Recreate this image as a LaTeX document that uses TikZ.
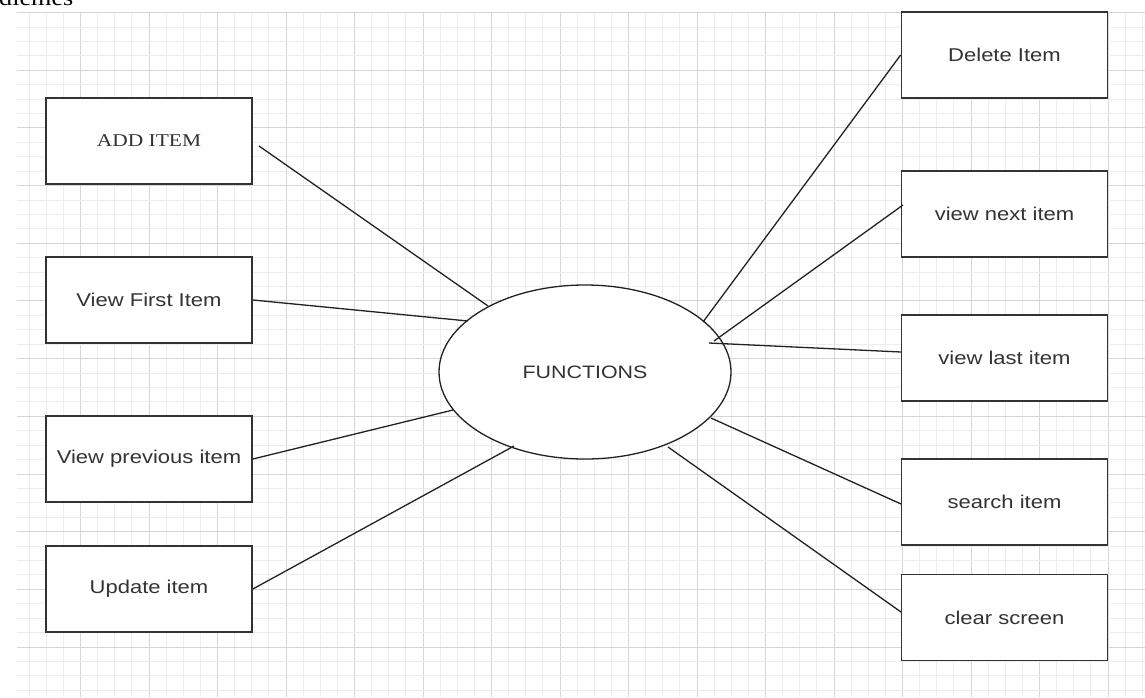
\documentclass[tikz,border=0pt]{standalone}
\usepackage{fontspec}
\setmainfont{Liberation Serif}
\newfontfamily\arialf{Liberation Sans}
\newcommand\hsx[1]{\scalebox{1.19}[1]{#1}}
\definecolor{gminor}{HTML}{EDEDED}
\definecolor{gmajor}{HTML}{D6D6D6}
\definecolor{boxline}{HTML}{333333}
\definecolor{txt}{HTML}{333333}
\definecolor{conn}{HTML}{222222}
\tikzset{
  minorline/.style={draw=gminor, line width=0.8pt},
  majorline/.style={draw=gmajor, line width=0.9pt},
  itembox/.style={draw=boxline, fill=white, line width=1.7pt, minimum width=206pt, minimum height=86pt, inner sep=0pt, text=txt, font=\arialf\fontsize{18.5}{20}\selectfont},
  serifbox/.style={itembox, font=\fontsize{18}{20}\selectfont},
  hub/.style={ellipse, draw=conn, fill=white, line width=1.3pt, minimum width=292pt, minimum height=174pt, inner sep=0pt, text=txt, font=\arialf\fontsize{18}{20}\selectfont},
  link/.style={draw=conn, line width=1.3pt}
}
\usetikzlibrary{shapes.geometric}
\begin{document}
\begin{tikzpicture}[x=1pt,y=-1pt]
\useasboundingbox (0,0) rectangle (1145,697);
\fill[white] (0,0) rectangle (1145,697);
% grid
\foreach \i in {1,...,66} {
  \pgfmathtruncatemacro\m{mod(\i,4)}
  \ifnum\m=0
    \draw[majorline] ({12+17.125*\i},12.5) -- ({12+17.125*\i},697);
  \else
    \draw[minorline] ({12+17.125*\i},12.5) -- ({12+17.125*\i},697);
  \fi
}
\foreach \j in {0,...,47} {
  \pgfmathtruncatemacro\m{mod(\j,4)}
  \ifnum\m=0
    \draw[majorline] (17,{12.5+14.42*\j}) -- (1145,{12.5+14.42*\j});
  \else
    \draw[minorline] (17,{12.5+14.42*\j}) -- (1145,{12.5+14.42*\j});
  \fi
}
% clipped heading text at the top-left
\node[anchor=base west, inner sep=0pt, font=\fontsize{22}{24}\selectfont, text=black] (head) at (-1,5) {\hsx{diemes}};
% hub
\node[hub] (f) at (585,372) {\hsx{FUNCTIONS}};
% left boxes
\node[serifbox] (add) at (149,141) {\hsx{ADD ITEM}};
\node[itembox] (vf) at (149,300) {\hsx{View First Item}};
\node[itembox] (vp) at (149,459) {\hsx{View previous item}};
\node[itembox] (up) at (149,589) {\hsx{Update item}};
% right boxes
\node[itembox] (del) at (1004.5,55) {\hsx{Delete Item}};
\node[itembox] (vn) at (1004.5,214) {\hsx{view next item}};
\node[itembox] (vl) at (1004.5,358) {\hsx{view last item}};
\node[itembox] (si) at (1004.5,502) {\hsx{search item}};
\node[itembox] (cs) at (1004.5,617.5) {\hsx{clear screen}};
% connector end points
\coordinate (a0) at (259,146);
\coordinate (a1) at (488,306);
\coordinate (b1) at (468,321);
\coordinate (c1) at (453,410);
\coordinate (d1) at (514,446);
\coordinate (e1) at (703,322);
\coordinate (g0) at (903,205);
\coordinate (g1) at (714,341);
\coordinate (h0) at (901,352);
\coordinate (h1) at (709,343);
\coordinate (i0) at (901,504);
\coordinate (i1) at (711,418);
\coordinate (k0) at (901,612);
\coordinate (k1) at (668,447);
% connectors
\draw[link] (a0) -- (a1);
\draw[link] (vf.east) -- (b1);
\draw[link] (vp.east) -- (c1);
\draw[link] (up.east) -- (d1);
\draw[link] (del.west) -- (e1);
\draw[link] (g0) -- (g1);
\draw[link] (h0) -- (h1);
\draw[link] (i0) -- (i1);
\draw[link] (k0) -- (k1);
\end{tikzpicture}
\end{document}
